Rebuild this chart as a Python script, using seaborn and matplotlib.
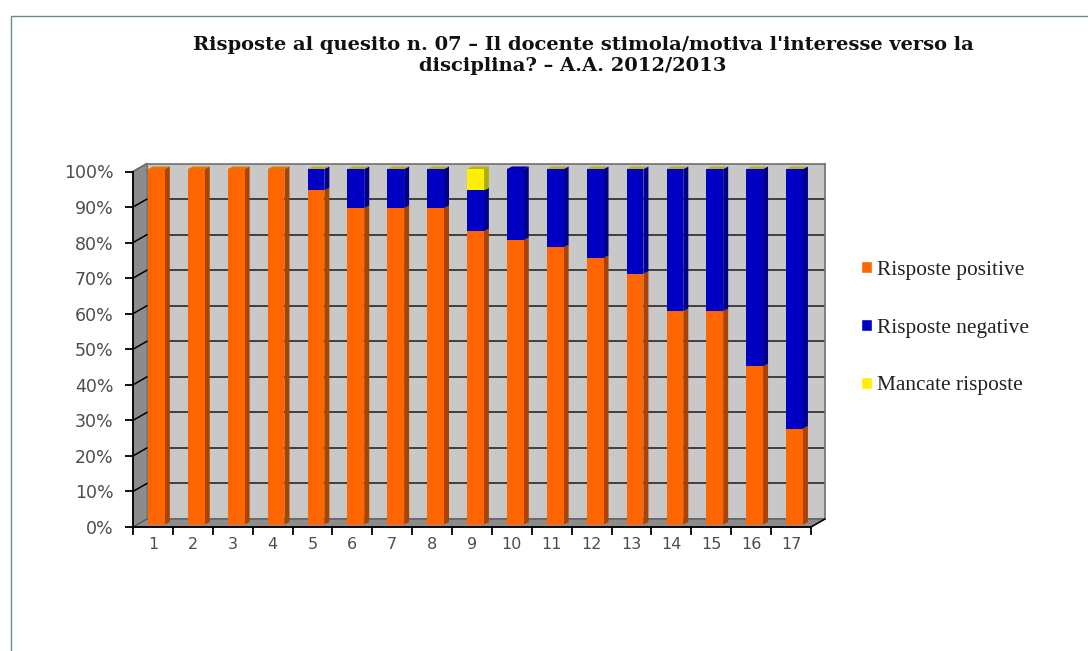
import matplotlib.pyplot as plt
import numpy as np
import seaborn as sns

from matplotlib.lines import Line2D
from matplotlib.patches import Patch, Polygon
from matplotlib.transforms import IdentityTransform

questions = [str(i) for i in range(1, 18)]
positive = [100, 100, 100, 100, 94, 89, 89, 89, 82.5, 80, 78, 75, 70.5, 60, 60, 44.5, 27]
negative = [0, 0, 0, 0, 6, 11, 11, 11, 11.5, 20, 22, 25, 29.5, 40, 40, 55.5, 73]
missing = [0, 0, 0, 0, 0, 0, 0, 0, 6, 0, 0, 0, 0, 0, 0, 0, 0]
series_names = ['Risposte positive', 'Risposte negative', 'Mancate risposte']
y_ticks = list(range(0, 101, 10))

W, H = 1088, 651
SERIF = 'Liberation Serif'
TITLE_FONT = 'DejaVu Serif'
FRONT_COLORS = ['#ff6600', '#0000c4', '#fff000']
SIDE_COLORS = ['#a84400', '#000088', '#b0ac00']
TOP_COLORS = ['#e07a00', '#00009a', '#b9b020']
BLUE_CAP = '10'  # this one bar has no yellow edge on top

# front face of the 3d box, in image pixels
LEFT, RIGHT, TOP, BOTTOM = 133, 811, 171.5, 527
DEPTH = (14, 8)
BAR_SHIFT = (3.5, 2.5)
BAR_DEPTH = (5, 2.5)


def make_axes(fig, dx=0, dy=0):
    return fig.add_axes([(LEFT + dx) / W, (H - BOTTOM + dy) / H,
                         (RIGHT - LEFT) / W, (BOTTOM - TOP) / H])


sns.set_theme(style='white')
fig = plt.figure(figsize=(W / 100, H / 100), dpi=100, facecolor='white')

# back wall
wall = make_axes(fig, *DEPTH)
wall.set_facecolor('#c8c8c8')
wall.set_xlim(0, 1)
wall.set_ylim(0, 100)
wall.set_xticks([])
wall.set_yticks(y_ticks[1:-1])
wall.tick_params(left=False, labelleft=False)
wall.grid(axis='y', color='#1a1a1a', linewidth=1.1)
wall.set_axisbelow(True)
for spine in wall.spines.values():
    spine.set_color('#707070')
    spine.set_linewidth(1.2)
wall.set_zorder(1)

# front axes with the ticks
ax = make_axes(fig)
ax.patch.set_alpha(0)
ax.set_xlim(-0.5, 16.5)
ax.set_ylim(0, 100)
ax.set_zorder(3)
sns.despine(ax=ax)
for spine in ['left', 'bottom']:
    ax.spines[spine].set_color('black')
    ax.spines[spine].set_linewidth(1.3)
ax.set_yticks(y_ticks)
ax.set_yticklabels([f'{v}%' for v in y_ticks], fontsize=12.5, color='#4d4d4d')
ax.set_xticks(np.arange(-0.5, 17), labels=[])
ax.set_xticks(np.arange(17), labels=questions, minor=True)
ax.tick_params(axis='y', length=6, width=1.3, color='black', left=True, pad=8)
ax.tick_params(axis='x', which='major', length=6, width=1.3, color='black', bottom=True)
ax.tick_params(axis='x', which='minor', length=0, pad=7, labelsize=11.5, labelcolor='#4d4d4d')

# side wall and floor
fig.canvas.draw()
x0, y0 = ax.transData.transform((-0.5, 0))
x1, _ = ax.transData.transform((16.5, 0))
_, y1 = ax.transData.transform((-0.5, 100))
dx, dy = DEPTH
fig.add_artist(Polygon([(x0, y0), (x0 + dx, y0 + dy), (x0 + dx, y1 + dy), (x0, y1)],
                       facecolor='#8c8c8c', edgecolor='#707070', linewidth=0.8,
                       transform=IdentityTransform(), zorder=2))
fig.add_artist(Polygon([(x0, y0), (x0 + dx, y0 + dy), (x1 + dx, y0 + dy), (x1, y0)],
                       facecolor='#8c8c8c', edgecolor='#555555', linewidth=0.8,
                       transform=IdentityTransform(), zorder=2))
for v in y_ticks[1:-1]:
    _, yv = ax.transData.transform((0, v))
    fig.add_artist(Line2D([x0, x0 + dx], [yv, yv + dy], color='black', linewidth=1.1,
                          transform=IdentityTransform(), zorder=2.1))
fig.add_artist(Line2D([x0, x0 + dx], [y1, y1 + dy], color='#666666', linewidth=1.1,
                      transform=IdentityTransform(), zorder=2.1))
fig.add_artist(Line2D([x1, x1 + dx], [y0, y0 + dy], color='black', linewidth=1.1,
                      transform=IdentityTransform(), zorder=2.1))

# stacked bars
bars = make_axes(fig, *BAR_SHIFT)
bars.patch.set_alpha(0)
bars.set_zorder(4)
bottoms = np.zeros(len(questions))
for values, name, color in zip([positive, negative, missing], series_names, FRONT_COLORS):
    sns.barplot(x=questions, y=values, bottom=bottoms, color=color, saturation=1,
                width=0.42, linewidth=0, ax=bars, zorder=3)
    bottoms = bottoms + np.array(values)
bars.set_xlim(-0.5, 16.5)
bars.set_ylim(0, 100)
bars.axis('off')

# bar sides and tops, taken from the bars that seaborn drew
fig.canvas.draw()
n = len(questions)
bdx, bdy = BAR_DEPTH
for i, patch in enumerate(list(bars.patches)):
    s = i // n
    q = i % n
    box = patch.get_window_extent()
    if box.height > 0:
        bars.add_patch(Polygon([(box.x1, box.y0), (box.x1 + bdx, box.y0 + bdy),
                                (box.x1 + bdx, box.y1 + bdy), (box.x1, box.y1)],
                               facecolor=SIDE_COLORS[s], edgecolor='none', clip_on=False,
                               transform=IdentityTransform(), zorder=2))
    top_series = 0 if negative[q] == 0 else (1 if questions[q] == BLUE_CAP else 2)
    if s == top_series:
        bars.add_patch(Polygon([(box.x0, box.y1), (box.x0 + bdx, box.y1 + bdy),
                                (box.x1 + bdx, box.y1 + bdy), (box.x1, box.y1)],
                               facecolor=TOP_COLORS[s], edgecolor='none', clip_on=False,
                               transform=IdentityTransform(), zorder=2))

# legend
handles = [Patch(facecolor=c, label=name) for c, name in zip(FRONT_COLORS, series_names)]
fig.legend(handles=handles, loc='center left', bbox_to_anchor=(842 / W, (H - 328) / H),
           frameon=False, prop={'family': SERIF, 'size': 15.4}, labelcolor='#222222',
           handlelength=0.52, handleheight=0.52, handletextpad=0.23, labelspacing=1.82)

# title
fig.text(583 / W, (H - 45) / H, "Risposte al quesito n. 07 – Il docente stimola/motiva l'interesse verso la",
         ha='center', va='center', family=TITLE_FONT, fontweight='bold', fontsize=14, color='#111111')
fig.text(573 / W, (H - 66) / H, 'disciplina? – A.A. 2012/2013',
         ha='center', va='center', family=TITLE_FONT, fontweight='bold', fontsize=14, color='#111111')

# page border of the screenshot
fig.add_artist(Line2D([11 / W, 1], [(H - 15.5) / H, (H - 15.5) / H], color='#6f8a8c', linewidth=1))
fig.add_artist(Line2D([11 / W, 11 / W], [0, (H - 15.5) / H], color='#6f8a8c', linewidth=1))

fig.savefig('out.png', dpi=100)
